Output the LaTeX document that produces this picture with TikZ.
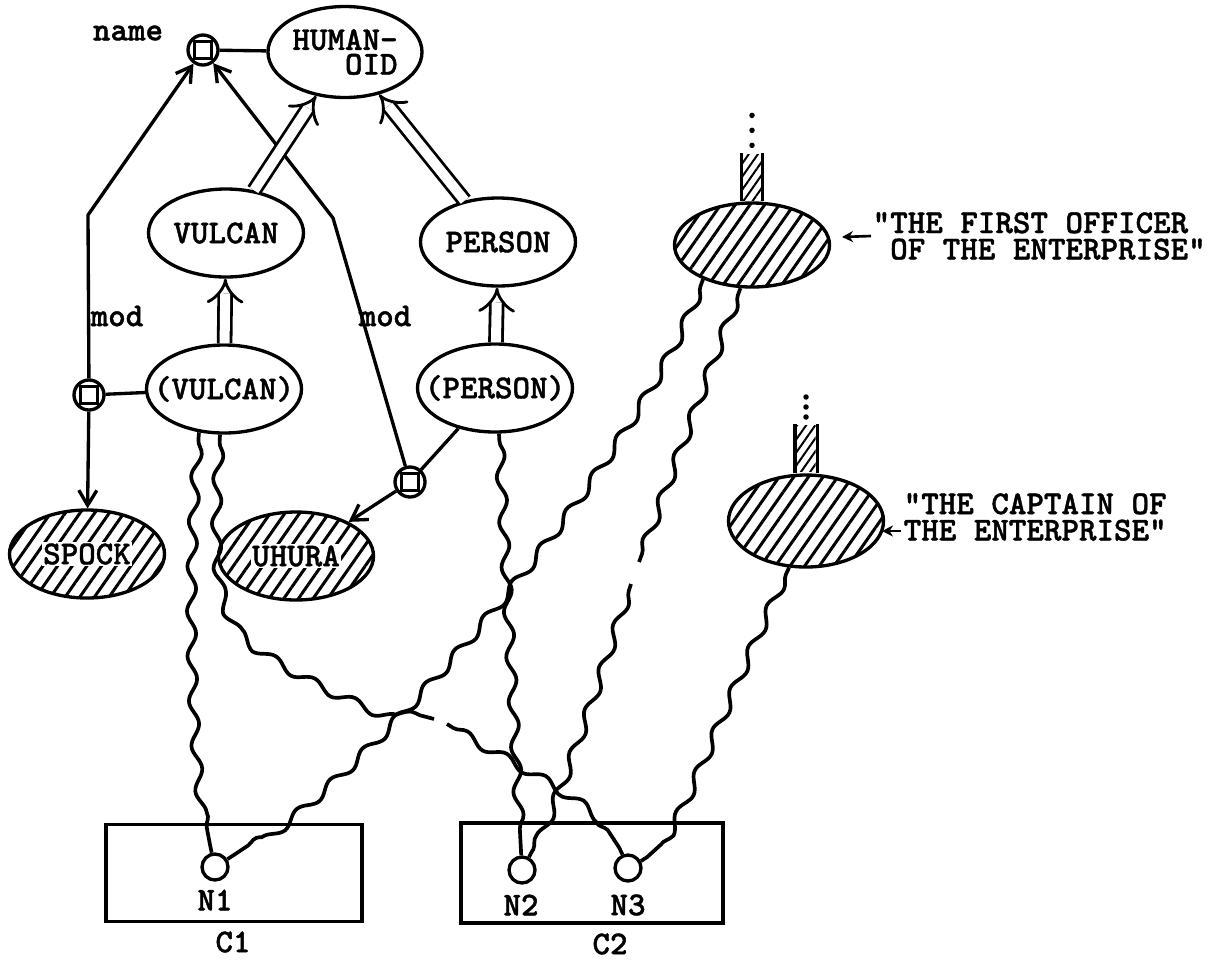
\documentclass[tikz,border=0pt]{standalone}
\usepackage{fontspec}
\newfontfamily\typefont{lmmonolt10-bold.otf}[FakeBold=1.2]
\usetikzlibrary{shapes.geometric,arrows.meta,patterns.meta,decorations.pathmorphing}

\begin{document}
\begin{tikzpicture}[x=0.2mm, y=-0.2mm,
  line width=1.9pt,
  font=\typefont\fontsize{19}{15}\selectfont,
  concept/.style={ellipse, draw, inner sep=0pt, minimum width=31mm, minimum height=17.6mm},
  token/.style={concept, pattern={Lines[angle=55,distance=2.4mm,line width=0.6mm]}},
  named/.style={label={[fill=white, inner sep=0.6pt]center:#1}},
  stub/.style={rectangle, inner sep=0pt, minimum width=3.8mm, minimum height=9.2mm,
               pattern={Lines[angle=55,distance=1.5mm,line width=0.4mm]}},
  rel/.style={circle, draw, minimum size=6mm, inner sep=0pt,
              path picture={\draw[line width=1.3pt] ([shift={(-1.7mm,-1.7mm)}]path picture bounding box.center) rectangle ++(3.4mm,3.4mm);}},
  hole/.style={circle, draw, minimum size=5.2mm, inner sep=0pt},
  chunk/.style={rectangle, draw, inner sep=0pt},
  lbl/.style={inner sep=0pt},
  isa/.style={double, double distance=2mm, line width=1.6pt, -{Implies}},
  arrow/.style={-{Straight Barb[length=3mm, width=3.6mm]}},
  pointer/.style={-{Stealth[length=2.2mm, width=2.2mm]}, line width=1.5pt},
  wavy/.style={line width=2.1pt, decorate,
               decoration={snake, amplitude=0.9mm, segment length=9mm, pre length=1.5mm, post length=1.5mm}},
]
\useasboundingbox (0,0) rectangle (1220,962);

% concept nodes
\node[lbl] (namelbl) at (128,33) {name};
\node[rel] (nameR) at (203,50) {};
\node[concept, minimum width=30.8mm, minimum height=18.2mm, align=right,
      font=\typefont\fontsize{19}{14}\selectfont] (humanoid) at (345,52) {HUMAN-\\OID};
\node[concept] (vulcan) at (226,233) {\makebox[0pt]{VULCAN}};
\node[concept] (person) at (498,242) {\makebox[0pt]{PERSON}};
\node[concept] (vulcanI) at (224,389) {\makebox[0pt]{(VULCAN)}};
\node[concept] (personI) at (495,388) {\makebox[0pt]{(PERSON)}};

\node[rel] (modL) at (89,395) {};
\node[rel] (modR) at (410,482) {};
\node[lbl] (modLlbl) at (117,316) {mod};
\node[lbl] (modRlbl) at (385,316) {mod};

\node[token, named=SPOCK] (spock) at (87,554) {};
\node[token, named=UHURA] (uhura) at (296,556) {};

% descriptions
\node[token, minimum height=16.8mm] (officer) at (752,245) {};
\node[stub, anchor=south] (offstub) at (officer.north) {};
\draw (offstub.south west) -- (offstub.north west) (offstub.south east) -- (offstub.north east);
\foreach \d in {8,23,38} \fill (offstub.north) ++(0,-\d) circle (0.55mm);

\node[token, minimum height=18.4mm] (captain) at (806,521) {};
\node[stub, anchor=south] (captstub) at (captain.north) {};
\draw (captstub.south west) -- (captstub.north west) (captstub.south east) -- (captstub.north east);
\foreach \d in {7,17,27} \fill (captstub.north) ++(0,-\d) circle (0.55mm);

\node[lbl, anchor=west, align=left] (offtext) at (871,236)
  {"THE FIRST OFFICER\\\hphantom{"}OF THE ENTERPRISE"};
\node[lbl, anchor=west, align=left] (capttext) at (902,517)
  {"THE CAPTAIN OF\\THE ENTERPRISE"};
\coordinate (offtip) at (842,237);
\coordinate (captfrom) at (901,531);
\coordinate (capttip) at (882,531);
\draw[pointer] (offtext.west) -- (offtip);
\draw[pointer] (captfrom) -- (capttip);

% contexts
\node[chunk, minimum width=51.2mm, minimum height=19.4mm] (c1) at (234,873) {};
\node[chunk, minimum width=52.4mm, minimum height=20mm] (c2) at (592,873) {};
\node[lbl] (c1lbl) at (233,942) {C1};
\node[lbl] (c2lbl) at (610,944) {C2};
\node[hole] (n1) at (215,867) {};
\node[hole] (n2) at (522,870) {};
\node[hole] (n3) at (628,868) {};
\node[lbl] (n1lbl) at (215,900) {N1};
\node[lbl] (n2lbl) at (521,905) {N2};
\node[lbl] (n3lbl) at (628,905) {N3};

% relations
\coordinate (bendL) at (88,215);
\coordinate (bendR) at (333,218);
\draw (nameR) -- (humanoid);
\draw[arrow] (modL) -- (bendL) -- (nameR);
\draw[arrow] (modR) -- (bendR) -- (nameR);
\draw (modL) -- (vulcanI);
\draw[arrow] (modL) -- (spock);
\draw (modR) -- (personI);
\draw[arrow] (modR) -- (uhura);

\draw[isa] (vulcanI) -- (vulcan);
\draw[isa] (personI) -- (person);
\draw[isa] (vulcan) -- (humanoid);
\draw[isa] (person) -- (humanoid);

% references into the contexts
\coordinate (gapA) at (639,562);
\coordinate (gapB) at (631,584);
\coordinate (gapC) at (434,719);
\coordinate (gapD) at (447,724);
\draw[wavy] (vulcanI.240) .. controls (185,600) and (195,780) .. (n1);
\draw[wavy] (vulcanI.265) .. controls (213,560) and (215,615) .. (265,642)
  .. controls (310,672) and (380,705) .. (gapC);
\draw[wavy] (gapD) .. controls (500,758) and (600,800) .. (n3);
\draw[wavy] (personI.275) -- (n2);
\draw[wavy] (officer.215) .. controls (650,430) and (400,750) .. (n1);
\draw[wavy] (officer.255) -- (gapA);
\draw[wavy] (gapB) .. controls (600,680) and (560,800) .. (n2);
\draw[wavy] (captain.250) .. controls (700,760) and (680,840) .. (n3);

\end{tikzpicture}
\end{document}
